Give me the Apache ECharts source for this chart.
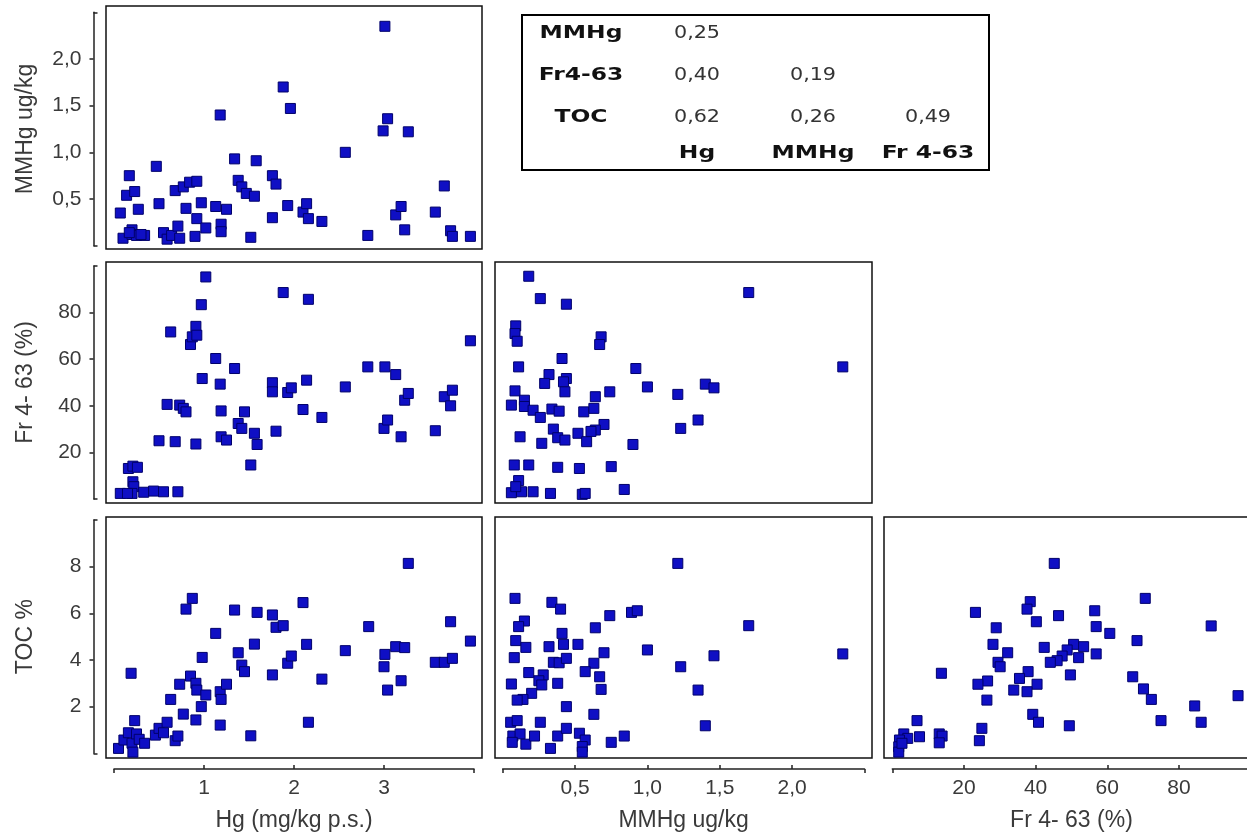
<!DOCTYPE html>
<html><head><meta charset="utf-8">
<script src="https://cdn.jsdelivr.net/npm/echarts@6/dist/echarts.min.js"></script>
<style>html,body{margin:0;padding:0;background:#fff}#c{width:1247px;height:839px}</style>
</head><body><div id="c"></div>
<script>
// ---- data (each panel: x values, y values) ----
const p1Hg=[0.07,0.10,0.17,0.14,0.23,0.20,0.20,0.27,0.25,0.34,0.47,0.50,0.55,0.59,0.64,0.68,0.71,0.73,0.77,0.80,0.84,0.90,0.92,0.92,0.97,1.02,1.13,1.18,1.19,1.19,1.25,1.34,1.38,1.42,1.47,1.52,1.56,1.58,1.76,1.80,1.76,1.88,1.93,1.96,2.10,2.14,2.16,2.31,2.57,2.82,3.01,2.99,3.04,3.13,3.19,3.23,3.27,3.57,3.67,3.74,3.76,3.96,0.17,0.30];
const p1MMHg=[0.35,0.08,0.75,0.54,0.58,0.17,0.12,0.39,0.11,0.11,0.85,0.45,0.14,0.07,0.11,0.59,0.21,0.08,0.63,0.40,0.68,0.10,0.69,0.29,0.46,0.19,0.42,1.40,0.23,0.15,0.39,0.93,0.70,0.63,0.56,0.09,0.53,0.91,0.75,0.66,0.30,1.70,0.43,1.47,0.36,0.45,0.29,0.26,1.00,0.11,2.35,1.23,1.36,0.33,0.42,0.17,1.22,0.36,0.64,0.16,0.10,0.10,0.14,0.12];

const p2Hg=[0.07,0.16,0.21,0.26,0.21,0.22,0.20,0.15,0.33,0.44,0.55,0.71,0.50,0.59,0.63,0.68,0.73,0.77,0.80,0.85,0.87,0.91,0.92,0.91,0.97,1.02,0.98,1.13,1.18,1.19,1.19,1.25,1.34,1.38,1.42,1.45,1.52,1.56,1.59,1.76,1.76,1.80,1.88,1.93,1.97,2.10,2.14,2.16,2.31,2.57,2.82,3.01,3.00,3.04,3.13,3.19,3.23,3.27,3.57,3.67,3.76,3.74,3.96];
const p2Fr=[2.4,13.1,14.1,13.6,7.4,5.3,2.4,2.4,2.9,3.4,3.1,3.1,25.0,40.6,71.7,24.6,40.3,38.9,37.4,66.3,69.6,74.1,70.3,23.6,83.4,95.3,51.7,60.3,49.3,37.8,26.7,25.3,56.0,32.4,30.3,37.4,14.6,28.2,23.4,49.9,46.0,29.1,88.6,45.7,47.7,38.4,51.0,85.7,35.0,48.1,56.7,56.7,30.3,33.9,53.4,26.7,42.4,45.3,29.3,43.9,46.7,40.0,67.9];

const p3MMHg=[0.18,0.26,0.44,1.70,0.09,0.085,0.10,0.68,0.67,2.35,0.41,0.11,0.92,0.32,0.29,0.44,0.42,1.40,1.46,1.00,0.085,0.43,0.74,1.21,0.64,0.06,0.15,0.15,0.21,0.26,0.34,0.39,0.56,0.63,1.35,1.23,0.70,0.64,0.61,0.35,0.38,0.43,0.52,0.58,0.12,0.27,0.90,0.08,0.18,0.38,0.53,0.75,0.11,0.06,0.13,0.21,0.33,0.55,0.57,0.84,0.09];
const p3Fr=[95.6,86.0,83.6,88.6,74.3,71.0,67.7,69.6,66.3,56.7,60.3,56.7,56.0,53.4,49.6,51.7,50.3,49.3,47.7,48.1,46.4,46.0,46.0,44.9,43.9,40.3,42.4,39.7,38.1,35.0,38.6,37.7,37.4,38.9,33.9,30.3,32.0,29.6,29.0,30.0,26.3,25.3,28.2,24.6,26.7,23.9,23.4,14.6,14.6,13.6,13.1,13.9,7.9,2.7,3.1,3.1,2.4,2.0,2.4,4.1,5.3];

const p4Hg=[0.05,0.11,0.16,0.20,0.21,0.25,0.19,0.23,0.28,0.34,0.46,0.50,0.55,0.59,0.63,0.68,0.71,0.73,0.77,0.80,0.87,0.85,0.91,0.92,0.91,0.97,1.02,0.98,1.13,1.18,1.19,1.18,1.25,1.34,1.38,1.42,1.45,1.52,1.56,1.59,1.76,1.80,1.88,1.76,1.93,1.97,2.10,2.14,2.16,2.31,2.57,2.83,3.01,3.00,3.04,3.13,3.19,3.23,3.27,3.57,3.67,3.76,3.74,3.96];
const p4TOC=[0.21,0.57,0.88,0.43,0.05,0.83,3.43,1.40,0.60,0.43,0.78,1.07,0.88,1.33,2.31,0.54,0.74,2.96,1.68,6.18,6.64,3.31,3.00,2.71,1.43,2.00,2.50,4.11,5.14,2.64,2.31,1.21,2.96,6.14,4.31,3.78,3.50,0.75,4.68,6.04,5.93,5.40,5.47,3.36,3.86,4.17,6.46,4.67,1.33,3.18,4.40,5.43,4.24,3.71,2.71,4.57,3.11,4.53,8.14,3.90,3.90,4.07,5.64,4.81];

const p5MMHg=[1.21,0.085,0.34,0.40,0.74,0.89,0.93,1.70,0.15,0.11,0.64,0.41,0.09,0.16,0.32,0.42,0.52,0.70,1.00,1.46,2.35,0.08,0.35,0.39,0.44,1.23,0.63,0.57,0.18,0.28,0.25,0.06,0.27,0.38,0.67,0.68,1.35,0.20,0.14,0.10,0.44,0.055,0.10,0.26,0.63,1.40,0.07,0.12,0.066,0.16,0.22,0.38,0.44,0.33,0.53,0.57,0.55,0.55,0.75,0.84];
const p5TOC=[8.14,6.64,6.47,6.18,5.90,6.04,6.11,5.47,5.67,5.43,5.38,5.14,4.83,4.54,4.57,4.67,4.67,4.31,4.43,4.18,4.26,4.10,3.90,3.88,4.07,3.71,3.86,3.50,3.46,3.36,3.11,2.97,2.93,3.00,3.28,2.74,2.71,2.57,2.31,2.28,2.00,1.33,1.40,1.33,1.67,1.18,0.74,0.83,0.47,0.39,0.74,0.74,1.07,0.21,0.86,0.57,0.29,0.05,0.47,0.74];

const p6Fr=[45.2,70.6,38.5,37.6,23.2,56.5,46.4,40.2,56.9,89.0,29.0,60.7,68.3,28.1,42.4,32.2,50.6,53.4,48.8,47.4,52.0,56.9,46.0,44.1,29.5,30.1,13.7,37.9,35.5,49.7,67.1,26.6,23.9,40.4,33.9,37.6,70.1,72.3,96.5,26.4,84.4,39.2,40.8,49.4,75.0,86.2,25.0,24.3,6.9,7.6,13.1,13.9,13.1,3.2,4.3,2.0,1.8,1.8,2.7];
const p6TOC=[8.14,6.64,6.50,6.18,6.04,6.11,5.90,5.64,5.43,5.46,5.38,5.14,4.83,4.67,4.54,4.31,4.67,4.57,4.43,4.17,4.10,4.26,3.97,3.90,3.90,3.71,3.43,3.50,3.21,3.36,3.28,3.10,2.96,2.96,2.71,2.64,2.76,2.31,2.47,2.28,2.03,1.67,1.33,1.18,1.40,1.33,1.07,0.54,1.40,0.71,0.83,0.74,0.45,0.83,0.64,0.57,0.28,0.05,0.43];

// axis tick steps and titles
const xAxisNames=['Hg (mg/kg p.s.)','MMHg ug/kg','Fr 4- 63 (%)'];
const yAxisNames=['MMHg ug/kg','Fr 4- 63 (%)','TOC %'];
const xTickSteps=[1,0.5,20];
const yTickSteps=[0.5,20,2];

// correlation table
const corrRowLabels=['MMHg','Fr4-63','TOC'];
const corrColLabels=['Hg','MMHg','Fr 4-63'];
const corrValues=[[0.25],[0.40,0.19],[0.62,0.26,0.49]];

// ---- layout ----
const FONT='"Liberation Sans", Arial, sans-serif';
const TXT='#3a3a3a';
const comma1=v=>v.toFixed(1).replace('.',',');
const intFmt=v=>String(Math.round(v));
const cols=[
  {axL:114,axR:474,boxL:106,boxR:482,min:0,max:4,fmt:intFmt},
  {axL:502.7,axR:864.5,boxL:495,boxR:872,min:0,max:2.5,fmt:comma1},
  {axL:892.3,axR:1250.6,boxL:884,boxR:1259,min:0,max:100,fmt:intFmt}
];
const rows=[
  {axT:12.3,axB:245.7,boxT:6,boxB:249,min:0,max:2.5,fmt:comma1},
  {axT:266,axB:499,boxT:262,boxB:503,min:0,max:100,fmt:intFmt},
  {axT:520,axB:753.3,boxT:517,boxB:758,min:0,max:10,fmt:intFmt}
];
const panels=[
  {col:0,row:0,x:p1Hg,y:p1MMHg},
  {col:0,row:1,x:p2Hg,y:p2Fr},
  {col:1,row:1,x:p3MMHg,y:p3Fr},
  {col:0,row:2,x:p4Hg,y:p4TOC},
  {col:1,row:2,x:p5MMHg,y:p5TOC},
  {col:2,row:2,x:p6Fr,y:p6TOC}
];

const grids=[],xAxes=[],yAxes=[],series=[];
function addGrid(g){grids.push(Object.assign({outerBoundsMode:'none',containLabel:false},g));return grids.length-1;}
const AX='#222';

panels.forEach(p=>{
  const c=cols[p.col],r=rows[p.row];
  const sx=(c.max-c.min)/(c.axR-c.axL),sy=(r.max-r.min)/(r.axB-r.axT);
  const gi=addGrid({left:c.boxL,top:r.boxT,width:c.boxR-c.boxL,height:r.boxB-r.boxT,show:true,borderColor:'#111',borderWidth:1.5,backgroundColor:'#fff'});
  const xi=xAxes.push({gridIndex:gi,type:'value',show:false,min:c.min-(c.axL-c.boxL)*sx,max:c.max+(c.boxR-c.axR)*sx})-1;
  const yi=yAxes.push({gridIndex:gi,type:'value',show:false,min:r.min-(r.boxB-r.axB)*sy,max:r.max+(r.axT-r.boxT)*sy})-1;
  series.push({type:'scatter',xAxisIndex:xi,yAxisIndex:yi,symbol:'rect',symbolSize:10,silent:true,
    data:p.x.map((v,i)=>[v,p.y[i]]),
    itemStyle:{color:'#0f0fc4',borderColor:'#00006a',borderWidth:1,opacity:1}});
});

rows.forEach((r,i)=>{
  const gi=addGrid({left:93.5,top:r.axT,width:1,height:r.axB-r.axT});
  xAxes.push({gridIndex:gi,type:'value',show:false,min:0,max:1});
  yAxes.push({gridIndex:gi,type:'value',position:'left',min:r.min,max:r.max,interval:yTickSteps[i],
    axisLine:{show:true,lineStyle:{color:AX,width:1.5}},
    axisTick:{show:true,inside:false,length:4,lineStyle:{color:AX,width:1.5}},
    axisLabel:{show:true,margin:12,showMinLabel:false,showMaxLabel:false,fontFamily:FONT,fontSize:21,color:TXT,formatter:r.fmt},
    splitLine:{show:false},
    name:yAxisNames[i],nameLocation:'middle',nameGap:56,nameRotate:90,
    nameTextStyle:{fontFamily:FONT,fontSize:23,color:TXT}});
  yAxes.push({gridIndex:gi,type:'value',position:'left',min:r.min,max:r.max,interval:r.max-r.min,
    axisLine:{show:false},axisTick:{show:true,inside:true,length:4,lineStyle:{color:AX,width:1.5}},
    axisLabel:{show:false},splitLine:{show:false}});
});

cols.forEach((c,i)=>{
  const gi=addGrid({left:c.axL,top:768,width:c.axR-c.axL,height:1});
  yAxes.push({gridIndex:gi,type:'value',show:false,min:0,max:1});
  xAxes.push({gridIndex:gi,type:'value',position:'bottom',min:c.min,max:c.max,interval:xTickSteps[i],
    axisLine:{show:true,lineStyle:{color:AX,width:1.5}},
    axisTick:{show:true,inside:true,length:4,lineStyle:{color:AX,width:1.5}},
    axisLabel:{show:true,margin:9,showMinLabel:false,showMaxLabel:false,fontFamily:FONT,fontSize:21,color:TXT,formatter:c.fmt},
    splitLine:{show:false},
    name:xAxisNames[i],nameLocation:'middle',nameGap:40,
    nameTextStyle:{fontFamily:FONT,fontSize:23,color:TXT}});
  xAxes.push({gridIndex:gi,type:'value',position:'bottom',min:c.min,max:c.max,interval:c.max-c.min,
    axisLine:{show:false},axisTick:{show:true,inside:false,length:4,lineStyle:{color:AX,width:1.5}},
    axisLabel:{show:false},splitLine:{show:false}});
});

// correlation table (text)
const TB={x:522,y:15,w:467,h:155,labelX:581,colX:[697,813,928],rowY:[33,75,117],footY:153};
const graphic=[{type:'rect',z:10,shape:{x:TB.x,y:TB.y,width:TB.w,height:TB.h},style:{fill:'#fff',stroke:'#000',lineWidth:2}}];
function txt(s,x,y,bold,sx){
  graphic.push({type:'text',z:11,x:x,y:y,scaleX:sx,
    style:{text:s,fill:bold?'#111':'#333',fontFamily:'"DejaVu Sans", sans-serif',fontSize:18,fontWeight:bold?'bold':'normal',
      align:'center',verticalAlign:'middle',textAlign:'center',textVerticalAlign:'middle'}});
}
corrRowLabels.forEach((l,i)=>txt(l,TB.labelX,TB.rowY[i],true,1.3));
corrValues.forEach((row,i)=>row.forEach((v,j)=>txt(v.toFixed(2).replace('.',','),TB.colX[j],TB.rowY[i],false,1.15)));
corrColLabels.forEach((l,j)=>txt(l,TB.colX[j],TB.footY,true,1.3));

const chart=echarts.init(document.getElementById('c'),null,{renderer:'canvas'});
chart.setOption({animation:false,backgroundColor:'#fff',grid:grids,xAxis:xAxes,yAxis:yAxes,series:series,graphic:graphic});
</script></body></html>
